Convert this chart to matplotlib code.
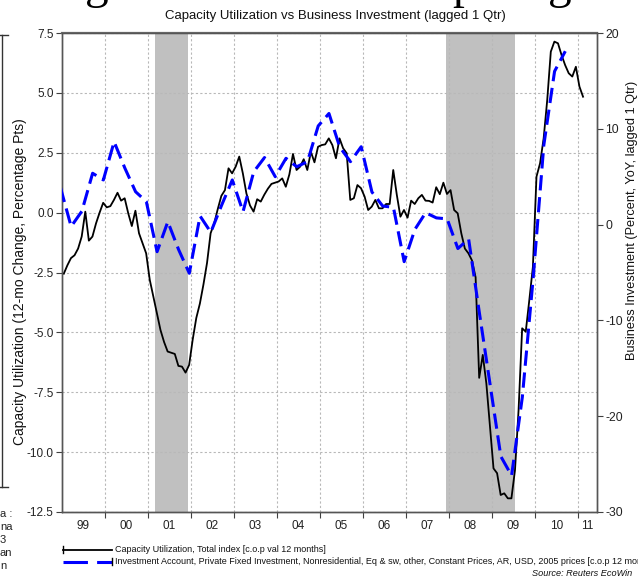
import matplotlib
matplotlib.use('Agg')
import matplotlib.pyplot as plt
import numpy as np
from matplotlib.lines import Line2D

plt.rcParams['font.family'] = ['Liberation Sans', 'DejaVu Sans']
plt.rcParams['axes.unicode_minus'] = False

# ---------------- data ----------------
# Capacity utilization, 12-month change (pct pts), monthly from Jan 1999
cu_start_year = 1999
cu_values = [
    -2.55, -2.2, -1.9, -1.78, -1.5, -1.0, 0.04, -1.17, -1.0, -0.45, 0.0, 0.41,
    0.22, 0.27, 0.53, 0.83, 0.5, 0.6, -0.03, -0.56, 0.08, -0.86, -1.28, -1.7,
    -2.8, -3.5, -4.2, -4.9, -5.4, -5.8, -5.85, -5.9, -6.4, -6.43, -6.68, -6.36,
    -5.3, -4.4, -3.8, -3.0, -2.1, -0.86, -0.45, 0.15, 0.7, 0.94, 1.85, 1.64,
    1.92, 2.34, 1.64, 0.8, 0.3, 0.04, 0.56, 0.46, 0.75, 1.0, 1.2, 1.25,
    1.3, 1.43, 1.08, 1.6, 2.45, 1.78, 1.92, 2.23, 1.78, 2.54, 2.1, 2.75,
    2.82, 2.85, 3.1, 2.82, 2.27, 3.1, 2.69, 2.48, 0.53, 0.6, 1.15, 1.02,
    0.67, 0.11, 0.25, 0.53, 0.18, 0.18, 0.36, 0.36, 1.78, 0.74, -0.17, 0.11,
    -0.21, 0.5, 0.36, 0.6, 0.74, 0.5, 0.49, 0.42, 1.06, 0.77, 1.25, 0.78,
    0.94, 0.11, -0.03, -0.86, -1.5, -1.7, -2.0, -2.7, -6.9, -5.94, -7.13, -8.9,
    -10.68, -10.88, -11.79, -11.72, -11.93, -11.93, -10.75, -8.24, -4.83, -4.97, -3.65, -2.26,
    1.5, 2.06, 3.1, 4.7, 6.72, 7.14, 7.07, 6.58, 6.16, 5.82, 5.68, 6.09,
    5.26, 4.84,
]

# Business investment YoY (%), quarterly, lagged 1 quarter; first value is Q4 1998 (lagged)
inv_start_year = 1999
inv_values = [
    3.9, -0.2, 1.4, 5.36, 4.66, 8.65, 5.9, 3.43, 2.4, -2.83, 0.3, -2.6,
    -5.08, 0.9, -0.8, 2.0, 4.66, 1.35, 5.52, 7.0, 5.0, 6.92, 6.04, 6.57,
    10.3, 11.6, 8.1, 6.57, 8.13, 3.4, 1.94, 1.8, -3.87, -0.5, 1.24, 0.7,
    0.6, -2.5, -1.5, -9.2, -16.7, -24.2, -26.2, -18.0, -5.7, 8.3, 16.0, 18.1,
]

# NBER recessions (fractional years)
rec_start = [2001.17, 2007.94]
rec_end = [2001.93, 2009.54]

year_labels = ['99', '00', '01', '02', '03', '04', '05', '06', '07', '08', '09', '10', '11']

title = 'Capacity Utilization vs Business Investment (lagged 1 Qtr)'
left_label = 'Capacity Utilization (12-mo Change, Percentage Pts)'
right_label = 'Business Investment (Percent, YoY, lagged 1 Qtr)'
leg1 = 'Capacity Utilization, Total index [c.o.p val 12 months]'
leg2 = ('Investment Account, Private Fixed Investment, Nonresidential, Eq & sw, other, '
        'Constant Prices, AR, USD, 2005 prices [c.o.p 12 months]')
source = 'Source: Reuters EcoWin'

# ---------------- figure ----------------
W, H = 638, 578
fig = plt.figure(figsize=(W / 100, H / 100), dpi=100)
L, R, T, B = 62, 597, 33, 512
ax = fig.add_axes([L / W, 1 - B / H, (R - L) / W, (B - T) / H])
ax2 = ax.twinx()

xmin, xmax = 1999.0, 2011.45
cu_t = cu_start_year + (np.arange(len(cu_values)) + 0.5) / 12.0
inv_t = inv_start_year + (np.arange(len(inv_values)) - 1 + 0.85) / 4.0

for s, e in zip(rec_start, rec_end):
    ax.axvspan(s, e, color='#c0c0c0', lw=0, zorder=0)

ax.set_xlim(xmin, xmax)
ax.set_ylim(-12.5, 7.5)
ax2.set_ylim(-30, 20)
ax2.set_xlim(xmin, xmax)

lt = np.arange(-12.5, 7.51, 2.5)
ax.set_yticks(lt)
ax.set_yticklabels([f'{v:.1f}' for v in lt])
rt = np.arange(-30, 21, 10)
ax2.set_yticks(rt)
ax2.set_yticklabels([f'{v:d}' for v in rt])

years = np.arange(2000, 2012)
ax.set_xticks(years)
ax.set_xticklabels([])
mids = [1999.5 + k for k in range(len(year_labels) - 1)] + [(2011 + xmax) / 2]
ax.set_xticks(mids, minor=True)
ax.set_xticklabels(year_labels, minor=True)

ax.grid(True, which='major', axis='both', color='#b8b8b8', linestyle=(0, (2, 2)), lw=0.8)
ax.set_axisbelow(True)

ax.tick_params(axis='x', which='major', length=4, direction='out', color='#404040', width=0.8)
ax.tick_params(axis='x', which='minor', length=0, labelsize=8.5, pad=6, labelcolor='#222222')
ax.tick_params(axis='y', length=4, direction='out', color='#404040', width=0.8, labelsize=8.5, pad=2,
               labelcolor='#222222')
ax2.tick_params(axis='y', length=4, direction='out', color='#404040', width=0.8, labelsize=8.8, pad=2,
                labelcolor='#222222')

for a in (ax, ax2):
    for sp in a.spines.values():
        sp.set_color('#555555')
        sp.set_linewidth(1.0)
ax.spines['top'].set_color('#6a6a6a')
ax.spines['top'].set_linewidth(1.6)

ax.plot(cu_t, cu_values, color='black', lw=1.3, zorder=3)
ax2.plot(inv_t, inv_values, color='#0000ff', lw=2.2, dashes=(5, 2.2), zorder=4)

ax.set_ylabel(left_label, fontsize=10, color='#111111')
ax.yaxis.set_label_coords((27 - L) / (R - L), (B - 282) / (B - T))
ax2.set_ylabel(right_label, fontsize=9.2, color='#111111')
ax2.yaxis.set_label_coords((625.5 - L) / (R - L), (B - 220) / (B - T))

fig.text(335 / W, 1 - 16 / H, title, ha='center', va='center', fontsize=9.5, color='#111111')

# cropped page heading (descenders only visible)
for ch, xp in [('g', 85), ('p', 452), ('g', 548)]:
    fig.text(xp / W, 1 + 1.5 / H, ch, ha='left', va='baseline', fontsize=34,
             family=['Liberation Serif', 'DejaVu Serif'], color='black')

# left page fragments
fig.add_artist(Line2D([2 / W, 2 / W], [1 - 35 / H, 1 - 487 / H], transform=fig.transFigure,
                      color='#333333', lw=1.0))
fig.add_artist(Line2D([0, 8 / W], [1 - 35 / H, 1 - 35 / H], transform=fig.transFigure, color='#333333', lw=1.0))
fig.add_artist(Line2D([0, 8 / W], [1 - 487 / H, 1 - 487 / H], transform=fig.transFigure, color='#333333', lw=1.0))
for txt, yp in [('a :', 514), ('na', 527), ('3', 540), ('an', 553), ('n', 566)]:
    fig.text(0 / W, 1 - yp / H, txt, ha='left', va='center', fontsize=8, color='#222222')

# legend
y1, y2 = 550, 562
fig.add_artist(Line2D([63 / W, 112 / W], [1 - y1 / H, 1 - y1 / H], transform=fig.transFigure, color='black', lw=1.3))
fig.add_artist(Line2D([63 / W, 63 / W], [1 - (y1 - 4) / H, 1 - (y1 + 3) / H], transform=fig.transFigure,
                      color='black', lw=1.0))
fig.add_artist(Line2D([63 / W, 112 / W], [1 - y2 / H, 1 - y2 / H], transform=fig.transFigure, color='#0000ff',
                      lw=2.2, dashes=(8, 3)))
fig.add_artist(Line2D([112 / W, 112 / W], [1 - (y2 - 4) / H, 1 - (y2 + 3) / H], transform=fig.transFigure,
                      color='black', lw=1.0))
fig.text(115 / W, 1 - y1 / H, leg1, ha='left', va='center', fontsize=6.5, color='#111111')
fig.text(115 / W, 1 - y2 / H, leg2, ha='left', va='center', fontsize=6.5, color='#111111')
fig.text(632 / W, 1 - 574 / H, source, ha='right', va='center', fontsize=6.6, style='italic', color='#111111')

fig.savefig('out.png', dpi=100)
